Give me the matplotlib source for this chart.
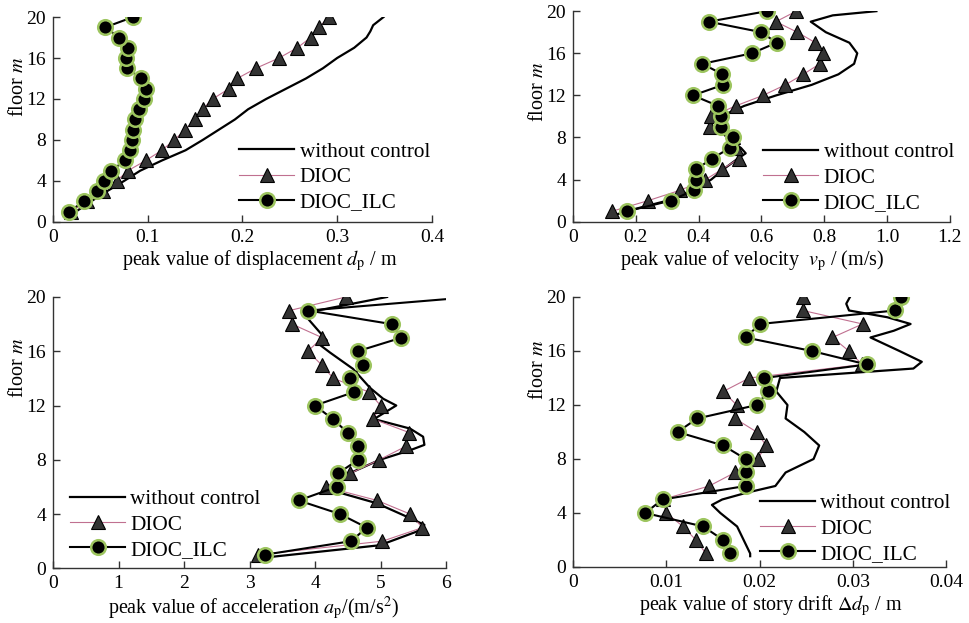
import numpy as np
import matplotlib.pyplot as plt

plt.rcParams['font.family'] = ['Liberation Serif', 'DejaVu Serif']
plt.rcParams['mathtext.fontset'] = 'stix'

floors = np.arange(1, 21)

# peak displacement (m)
disp_nc_floor = [0.3, 1, 2, 3, 4, 5, 6, 7, 8, 9, 10, 11, 12, 13, 14, 15, 16, 17, 18, 18.6, 19.2, 20]
disp_nc = [0.016, 0.024, 0.040, 0.057, 0.075, 0.092, 0.115, 0.140, 0.158, 0.175, 0.192, 0.206,
           0.225, 0.246, 0.267, 0.285, 0.300, 0.318, 0.331, 0.335, 0.338, 0.349]
disp_dioc = [0.0187, 0.036, 0.053, 0.0673, 0.079, 0.098, 0.115, 0.128, 0.1396, 0.150,
             0.158, 0.1685, 0.1857, 0.1945, 0.2143, 0.2386, 0.258, 0.272, 0.281, 0.291]
disp_ilc = [0.0166, 0.0328, 0.0465, 0.0536, 0.061, 0.0765, 0.0814, 0.0832, 0.0846, 0.087,
            0.0909, 0.0959, 0.098, 0.0927, 0.0786, 0.0768, 0.0793, 0.0698, 0.0553, 0.0846]

# peak velocity (m/s)
vel_nc_floor = [0.6, 1, 2, 3, 4, 5, 6, 6.5, 7, 8, 9, 10, 11, 12, 13, 14, 15, 16, 17, 18, 19, 19.6, 20]
vel_nc = [0.13, 0.17, 0.30, 0.38, 0.44, 0.48, 0.525, 0.55, 0.535, 0.49, 0.46, 0.47, 0.545,
          0.647, 0.76, 0.845, 0.895, 0.905, 0.88, 0.805, 0.757, 0.827, 0.966]
vel_dioc = [0.125, 0.239, 0.342, 0.4216, 0.476, 0.528, 0.52, 0.51, 0.4375, 0.441,
            0.518, 0.605, 0.676, 0.733, 0.786, 0.796, 0.772, 0.714, 0.646, 0.711]
vel_ilc = [0.173, 0.311, 0.385, 0.391, 0.393, 0.443, 0.499, 0.510, 0.470, 0.471,
           0.462, 0.382, 0.478, 0.476, 0.412, 0.570, 0.648, 0.600, 0.432, 0.618]

# peak acceleration (m/s^2)
acc_nc_floor = [0.8, 1.7, 2.7, 3.2, 3.7, 4.8, 5.5, 5.8, 6.9, 8, 8.7, 9.1, 9.7, 10.3, 11, 12,
                12.5, 13.3, 14.7, 15.9, 16.45, 16.8, 18.8, 20]
acc_nc = [3.25, 4.99, 5.55, 5.67, 5.45, 4.94, 4.43, 4.18, 4.48, 4.99, 5.45, 5.67, 5.65, 5.45,
          4.9, 5.24, 5.04, 4.84, 4.58, 4.23, 4.08, 4.18, 3.82, 5.1]
acc_dioc = [3.13, 5.03, 5.64, 5.45, 4.95, 4.16, 4.54, 4.98, 5.39, 5.44,
            4.89, 5.00, 4.82, 4.28, 4.10, 3.89, 4.11, 3.65, 3.61, 4.47]
acc_ilc = [3.23, 4.55, 4.79, 4.38, 3.75, 4.33, 4.35, 4.66, 4.65, 4.50,
           4.27, 4.00, 4.60, 4.54, 4.74, 4.65, 5.32, 5.17, 3.90, 6.4]

# peak story drift (m)
drift_nc_floor = [0.8, 1, 2, 3, 4, 4.6, 5, 5.5, 6, 7, 8, 9, 10, 11, 12, 13, 14, 14.7, 15.2, 16,
                  17, 17.5, 18, 18.5, 19, 19.5, 20]
drift_nc = [0.0190, 0.0190, 0.0183, 0.0176, 0.0158, 0.0149, 0.0160, 0.0186, 0.0217, 0.0228,
            0.0258, 0.0264, 0.0248, 0.0228, 0.0230, 0.0218, 0.0222, 0.0365, 0.0374, 0.0350,
            0.0319, 0.0344, 0.0362, 0.0337, 0.0296, 0.0293, 0.0297]
drift_dioc = [0.01425, 0.01318, 0.0118, 0.0100, 0.0096, 0.01461, 0.01737, 0.0198, 0.0207, 0.0197,
              0.01737, 0.01755, 0.01611, 0.01891, 0.0310, 0.02958, 0.02782, 0.03105, 0.02464, 0.02471]
drift_ilc = [0.01683, 0.01611, 0.01397, 0.00774, 0.0096, 0.01851, 0.01851, 0.01851, 0.01611, 0.01121,
             0.01332, 0.01973, 0.02091, 0.02052, 0.03151, 0.0256, 0.01851, 0.02005, 0.03456, 0.03517]

green = '#9dc55f'
pink = '#c07090'
axis_col = '#333333'
FIG_W, FIG_H = 969, 623


def draw_panel(ax, nc_floor, nc, dioc, ilc, xticks, xlabels, xlabel, leg_pos, xlab_x, ylab_y):
    ax.plot(nc, nc_floor, color='black', lw=1.6, label='without control', zorder=2)
    ax.plot(dioc, floors, color=pink, lw=0.8, marker='^', ms=10, mfc='#333333', mec='black',
            mew=0.8, label='DIOC', zorder=3)
    ax.plot(ilc, floors, color='black', lw=1.5, marker='o', ms=10.5, mfc='black', mec=green,
            mew=1.8, label='DIOC_ILC', zorder=4)
    ax.set_xlim(xticks[0], xticks[-1])
    ax.set_ylim(0, 20)
    ax.set_xticks(xticks)
    ax.set_xticklabels(xlabels)
    ax.set_yticks([0, 4, 8, 12, 16, 20])
    for s in ['top', 'right']:
        ax.spines[s].set_visible(False)
    for s in ['left', 'bottom']:
        ax.spines[s].set_color(axis_col)
        ax.spines[s].set_linewidth(1.0)
    ax.tick_params(direction='in', length=5, width=1.0, color=axis_col, labelsize=14, pad=5)

    pos = ax.get_position()
    w_px, h_px = pos.width * FIG_W, pos.height * FIG_H
    ax.set_xlabel(xlabel, fontsize=14.5)
    ax.xaxis.set_label_coords(xlab_x, -26 / h_px)
    ax.xaxis.label.set_verticalalignment('top')
    ax.set_ylabel(r'floor $m$', fontsize=14.5)
    ax.yaxis.set_label_coords(-25 / w_px, ylab_y)
    ax.legend(loc='upper left', bbox_to_anchor=leg_pos, frameon=False, fontsize=15.3,
              handlelength=2.6, handletextpad=0.25, labelspacing=0.25, borderpad=0,
              borderaxespad=0)


fig = plt.figure(figsize=(9.69, 6.23), dpi=100)
ax1 = fig.add_axes([0.0547, 0.6437, 0.391, 0.329])
ax2 = fig.add_axes([0.5913, 0.6441, 0.389, 0.338])
ax3 = fig.add_axes([0.0547, 0.0878, 0.4056, 0.4355])
ax4 = fig.add_axes([0.5913, 0.0899, 0.385, 0.4334])

draw_panel(ax1, disp_nc_floor, disp_nc, disp_dioc, disp_ilc,
           [0, 0.1, 0.2, 0.3, 0.4], ['0', '0.1', '0.2', '0.3', '0.4'],
           r'peak value of displacement $d_{\mathrm{p}}$ / m', (0.491, 0.39), 0.546, 0.66)
draw_panel(ax2, vel_nc_floor, vel_nc, vel_dioc, vel_ilc,
           [0, 0.2, 0.4, 0.6, 0.8, 1.0, 1.2], ['0', '0.2', '0.4', '0.6', '0.8', '1.0', '1.2'],
           r'peak value of velocity  $v_{\mathrm{p}}$ / (m/s)', (0.504, 0.376), 0.476, 0.615)
draw_panel(ax3, acc_nc_floor, acc_nc, acc_dioc, acc_ilc,
           [0, 1, 2, 3, 4, 5, 6], ['0', '1', '2', '3', '4', '5', '6'],
           r'peak value of acceleration $a_{\mathrm{p}}$/(m/s$^2$)', (0.043, 0.29), 0.51, 0.74)
draw_panel(ax4, drift_nc_floor, drift_nc, drift_dioc, drift_ilc,
           [0, 0.01, 0.02, 0.03, 0.04], ['0', '0.01', '0.02', '0.03', '0.04'],
           r'peak value of story drift $\Delta d_{\mathrm{p}}$ / m', (0.501, 0.272), 0.53, 0.73)

fig.savefig('out.png', dpi=100)
